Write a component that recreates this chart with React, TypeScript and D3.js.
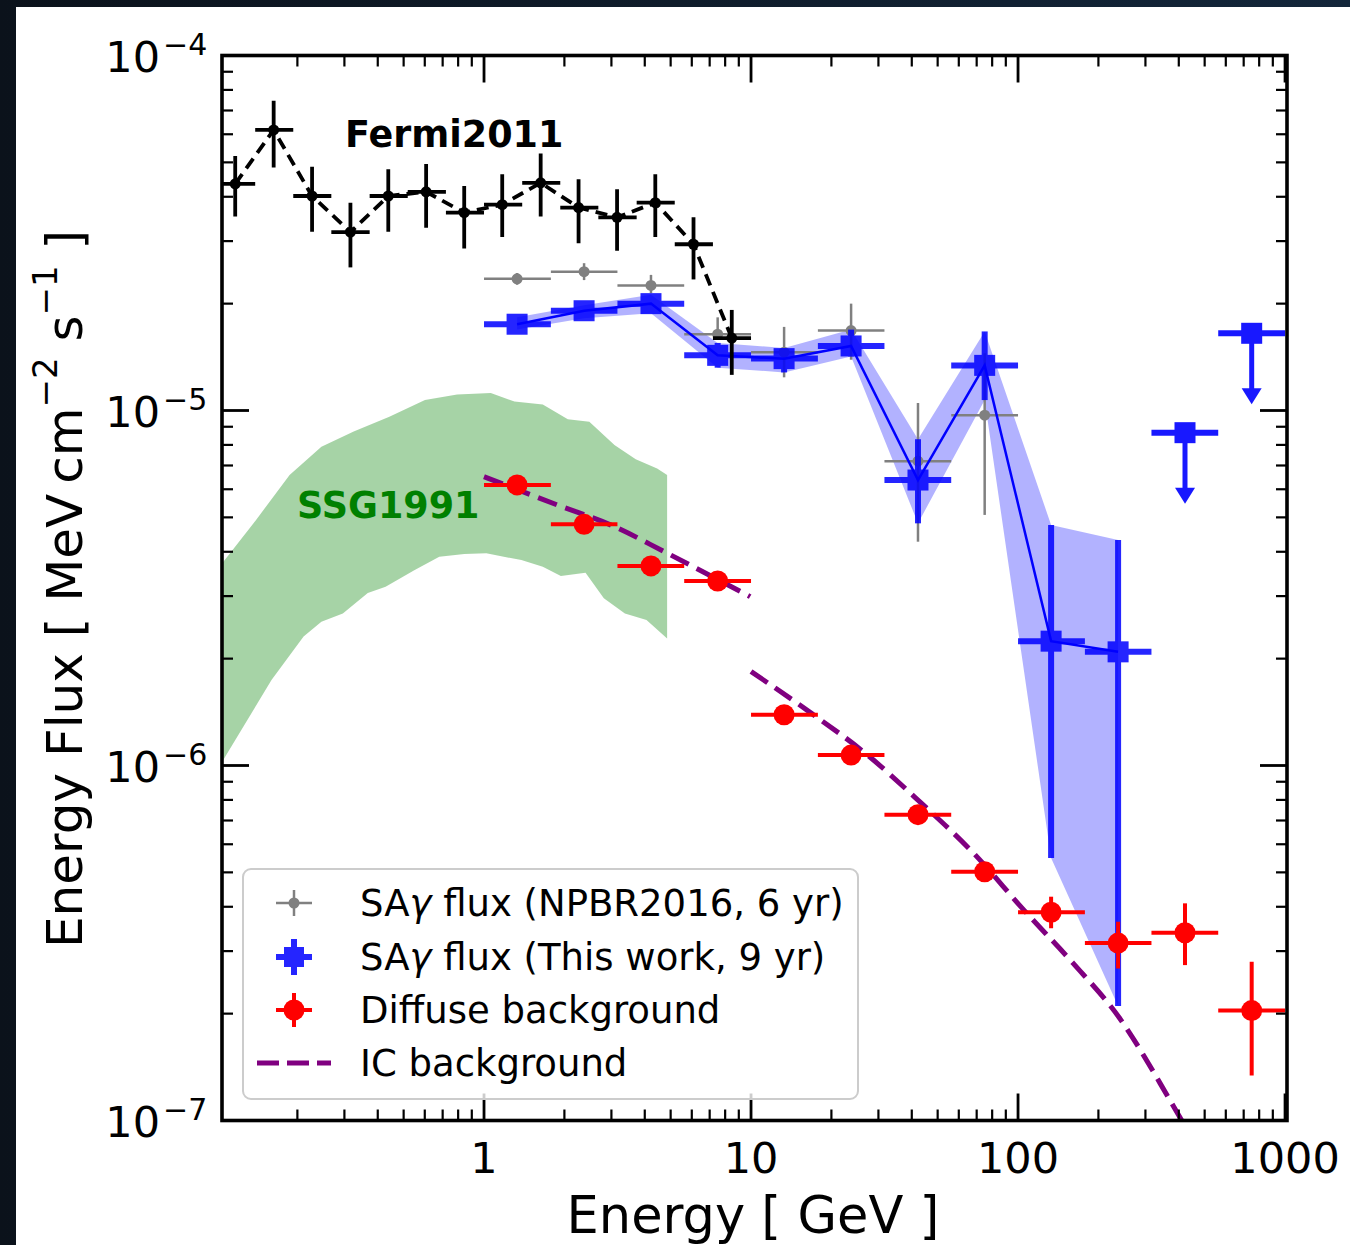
import React from 'react';
import * as d3 from 'd3';

// ---------- data ----------
// Fermi2011 (black)
const fermiE = [0.117, 0.163, 0.227, 0.316, 0.438, 0.607, 0.843, 1.17, 1.63, 2.26, 3.15, 4.38, 6.09, 8.47];
const fermiEdges = [0.1, 0.139, 0.193, 0.268, 0.373, 0.518, 0.72, 1.0, 1.39, 1.93, 2.68, 3.73, 5.18, 7.2, 10];
const fermiF = [4.35e-5, 6.17e-5, 4.02e-5, 3.18e-5, 4.02e-5, 4.13e-5, 3.61e-5, 3.8e-5, 4.38e-5, 3.73e-5, 3.5e-5, 3.85e-5, 2.94e-5, 1.6e-5];
const fermiHi = [5.21e-5, 7.46e-5, 4.86e-5, 3.85e-5, 4.78e-5, 4.95e-5, 4.29e-5, 4.63e-5, 5.3e-5, 4.48e-5, 4.2e-5, 4.63e-5, 3.5e-5, 1.92e-5];
const fermiLo = [3.52e-5, 4.84e-5, 3.19e-5, 2.53e-5, 3.19e-5, 3.27e-5, 2.86e-5, 3.08e-5, 3.52e-5, 2.96e-5, 2.82e-5, 3.08e-5, 2.34e-5, 1.26e-5];

// common energy bins for SAgamma and diffuse background
const saE = [1.33, 2.37, 4.22, 7.5, 13.3, 23.7, 42.2, 75.0, 133, 237, 422, 750];
const saEdges = [1, 1.78, 3.16, 5.62, 10, 17.8, 31.6, 56.2, 100, 178, 316, 562, 1000];

// NPBR2016, 6 yr (grey)
const npbrF = [2.35e-5, 2.46e-5, 2.25e-5, 1.64e-5, 1.46e-5, 1.68e-5, 7.2e-6, 9.7e-6];
const npbrHi = [2.44e-5, 2.6e-5, 2.41e-5, 1.83e-5, 1.72e-5, 2.0e-5, 1.05e-5, 1.45e-5];
const npbrLo = [2.26e-5, 2.33e-5, 2.14e-5, 1.58e-5, 1.24e-5, 1.39e-5, 4.27e-6, 5.08e-6];

// This work, 9 yr (blue)
const thisF = [1.75e-5, 1.91e-5, 2.0e-5, 1.43e-5, 1.4e-5, 1.52e-5, 6.37e-6, 1.34e-5, 2.24e-6, 2.09e-6];
const thisHi = [1.83e-5, 1.98e-5, 2.12e-5, 1.55e-5, 1.5e-5, 1.69e-5, 8.3e-6, 1.67e-5, 4.76e-6, 4.32e-6];
const thisLo = [1.69e-5, 1.82e-5, 1.88e-5, 1.32e-5, 1.28e-5, 1.42e-5, 4.81e-6, 1.07e-5, 5.49e-7, 2.1e-7];
// upper limits (bins 11, 12)
const ulF = [8.66e-6, 1.65e-5];

// Diffuse background (red)
const diffF = [6.17e-6, 4.78e-6, 3.65e-6, 3.31e-6, 1.39e-6, 1.07e-6, 7.27e-7, 5.02e-7, 3.86e-7, 3.16e-7, 3.38e-7, 2.04e-7];
const diffHi = [6.3e-6, 4.88e-6, 3.73e-6, 3.38e-6, 1.42e-6, 1.09e-6, 7.4e-7, 5.1e-7, 4.27e-7, 3.63e-7, 4.09e-7, 2.8e-7];
const diffLo = [6.04e-6, 4.68e-6, 3.57e-6, 3.24e-6, 1.36e-6, 1.05e-6, 7.14e-7, 4.94e-7, 3.48e-7, 2.68e-7, 2.74e-7, 1.34e-7];

// IC background (purple dashed), two segments
const icLowE = [1.0, 1.88, 3.08, 4.74, 9.92];
const icLowF = [6.51e-6, 5.42e-6, 4.71e-6, 4.0e-6, 2.99e-6];
const icHighE = [10.0, 16.9, 26.9, 42.8, 68.2, 105, 161, 238, 366, 441];
const icHighF = [1.84e-6, 1.4e-6, 1.08e-6, 7.91e-7, 5.66e-7, 3.92e-7, 2.77e-7, 1.96e-7, 1.16e-7, 9.1e-8];

// SSG1991 band (green)
const ssgUpE = [0.1, 0.137, 0.187, 0.246, 0.325, 0.442, 0.601, 0.793, 1.06, 1.3, 1.66, 2.06, 2.48, 3.08, 3.7, 4.45, 4.85];
const ssgUpF = [3.56e-6, 4.81e-6, 6.58e-6, 7.91e-6, 8.72e-6, 9.61e-6, 1.07e-5, 1.11e-5, 1.12e-5, 1.06e-5, 1.04e-5, 9.45e-6, 9.3e-6, 7.99e-6, 7.29e-6, 6.87e-6, 6.58e-6];
const ssgLoE = [0.1, 0.16, 0.211, 0.246, 0.296, 0.367, 0.428, 0.548, 0.68, 0.844, 1.02, 1.38, 1.66, 1.94, 2.4, 2.81, 3.37, 4.06, 4.85];
const ssgLoF = [9.7e-7, 1.74e-6, 2.31e-6, 2.54e-6, 2.68e-6, 3.06e-6, 3.19e-6, 3.55e-6, 3.87e-6, 3.94e-6, 3.96e-6, 3.79e-6, 3.63e-6, 3.42e-6, 3.49e-6, 2.96e-6, 2.68e-6, 2.57e-6, 2.28e-6];

const xDomain = [0.1044, 1017];
const yDomain = [1e-7, 1e-4];
const legendLabels = [
  'SAγ flux (NPBR2016, 6 yr)',
  'SAγ flux (This work, 9 yr)',
  'Diffuse background',
  'IC background',
];

const FONT = 'DejaVu Sans, Verdana, sans-serif';

function renderLabel(s: string) {
  const i = s.indexOf('γ');
  if (i < 0) return s;
  return (
    <>
      {s.slice(0, i)}
      <tspan fontStyle="italic">γ</tspan>
      {s.slice(i + 1)}
    </>
  );
}

export default function App() {
  const W = 1350, H = 1245;
  const L = 222, R = 1287, T = 55.5, B = 1120.5;
  const x = d3.scaleLog().domain(xDomain).range([L, R]);
  const y = d3.scaleLog().domain(yDomain).range([B, T]);

  const isMajor = (v: number) => Math.abs(Math.log10(v) - Math.round(Math.log10(v))) < 1e-6;
  const xTicks = x.ticks();
  const yTicks = y.ticks();

  const line = d3.line<[number, number]>().x(d => x(d[0])).y(d => y(d[1]));
  const smooth = d3.line<[number, number]>().x(d => x(d[0])).y(d => y(d[1])).curve(d3.curveMonotoneX);

  const ssgPoly = [
    ...ssgUpE.map((e, i) => [e, ssgUpF[i]] as [number, number]),
    ...ssgLoE.map((e, i) => [e, ssgLoF[i]] as [number, number]).reverse(),
  ];
  const ssgPath = line(ssgPoly) + 'Z';

  const thisE = saE.slice(0, thisF.length);
  const blueBand = d3.area<number>()
    .x((_, i) => x(thisE[i]))
    .y0((_, i) => y(thisLo[i]))
    .y1((_, i) => y(thisHi[i]))(thisF);

  const fermiPath = line(fermiE.map((e, i) => [e, fermiF[i]] as [number, number]));
  const bluePath = line(thisE.map((e, i) => [e, thisF[i]] as [number, number]));
  const icLowPath = smooth(icLowE.map((e, i) => [e, icLowF[i]] as [number, number]));
  const icHighPath = smooth(icHighE.map((e, i) => [e, icHighF[i]] as [number, number]));

  const blue = '#0000ff';
  const arrowDex = 0.2;

  const legX = 243, legY = 869, legW = 615, legH = 230;
  const rowY = [903, 957, 1010, 1063];
  const hx = 294;

  return (
    <svg width={W} height={H} viewBox={`0 0 ${W} ${H}`}
      style={{ position: 'absolute', left: 0, top: 0, display: 'block' }}
      fontFamily={FONT}>
      <defs>
        <clipPath id="plotClip">
          <rect x={L} y={T} width={R - L} height={B - T} />
        </clipPath>
        <linearGradient id="bg" x1="0" y1="0" x2="1" y2="0">
          <stop offset="0" stopColor="#0b121b" />
          <stop offset="1" stopColor="#13263a" />
        </linearGradient>
      </defs>
      <rect x={0} y={0} width={W} height={H} fill="url(#bg)" />
      <rect x={16} y={7} width={W - 16} height={H - 7} fill="#ffffff" />

      <g clipPath="url(#plotClip)">
        {/* SSG1991 band */}
        <path d={ssgPath} fill="green" fillOpacity={0.35} stroke="none" />
        {/* blue band */}
        <path d={blueBand || ''} fill={blue} fillOpacity={0.3} stroke="none" />

        {/* NPBR2016 grey */}
        {npbrF.map((f, i) => (
          <g key={'g' + i} stroke="#808080" strokeWidth={2.5}>
            <line x1={x(saEdges[i])} x2={x(saEdges[i + 1])} y1={y(f)} y2={y(f)} />
            <line x1={x(saE[i])} x2={x(saE[i])} y1={y(npbrLo[i])} y2={y(npbrHi[i])} />
            <circle cx={x(saE[i])} cy={y(f)} r={5.5} fill="#808080" stroke="none" />
          </g>
        ))}

        {/* blue connecting line */}
        <path d={bluePath || ''} fill="none" stroke={blue} strokeWidth={2.5} />
        {/* blue errorbars */}
        {thisF.map((f, i) => (
          <g key={'b' + i} opacity={0.85}>
            <line x1={x(saEdges[i])} x2={x(saEdges[i + 1])} y1={y(f)} y2={y(f)} stroke={blue} strokeWidth={6} />
            <line x1={x(saE[i])} x2={x(saE[i])} y1={y(thisLo[i])} y2={y(thisHi[i])} stroke={blue} strokeWidth={6} />
            <rect x={x(saE[i]) - 10.5} y={y(f) - 10.5} width={21} height={21} fill={blue} />
          </g>
        ))}
        {/* upper limits */}
        {ulF.map((f, j) => {
          const i = thisF.length + j;
          const cx = x(saE[i]);
          const cy = y(f);
          const tip = y(f * Math.pow(10, -arrowDex));
          return (
            <g key={'u' + j} opacity={0.9}>
              <line x1={x(saEdges[i])} x2={x(saEdges[i + 1])} y1={cy} y2={cy} stroke={blue} strokeWidth={6} />
              <line x1={cx} x2={cx} y1={cy} y2={tip - 12} stroke={blue} strokeWidth={5} />
              <path d={`M${cx - 10},${tip - 16} L${cx + 10},${tip - 16} L${cx},${tip} Z`} fill={blue} />
              <rect x={cx - 10.5} y={cy - 10.5} width={21} height={21} fill={blue} />
            </g>
          );
        })}

        {/* IC background */}
        <path d={icLowPath || ''} fill="none" stroke="#800080" strokeWidth={5} strokeDasharray="20,9" />
        <path d={icHighPath || ''} fill="none" stroke="#800080" strokeWidth={5} strokeDasharray="20,9" />

        {/* Diffuse background red */}
        {diffF.map((f, i) => (
          <g key={'r' + i} stroke="#ff0000" strokeWidth={4}>
            <line x1={x(saEdges[i])} x2={x(saEdges[i + 1])} y1={y(f)} y2={y(f)} />
            <line x1={x(saE[i])} x2={x(saE[i])} y1={y(diffLo[i])} y2={y(diffHi[i])} />
            <circle cx={x(saE[i])} cy={y(f)} r={10.5} fill="#ff0000" stroke="none" />
          </g>
        ))}

        {/* Fermi2011 black */}
        <path d={fermiPath || ''} fill="none" stroke="#000" strokeWidth={3.8} strokeDasharray="12,7" />
        {fermiF.map((f, i) => (
          <g key={'f' + i} stroke="#000" strokeWidth={3.8}>
            <line x1={x(fermiEdges[i])} x2={x(fermiEdges[i + 1])} y1={y(f)} y2={y(f)} />
            <line x1={x(fermiE[i])} x2={x(fermiE[i])} y1={y(fermiLo[i])} y2={y(fermiHi[i])} />
            <circle cx={x(fermiE[i])} cy={y(f)} r={5.5} fill="#000" stroke="none" />
          </g>
        ))}
      </g>

      {/* annotations */}
      <text x={345} y={147} fontSize={36.5} fontWeight="bold" fill="#000">Fermi2011</text>
      <text x={297} y={518} fontSize={36.5} fontWeight="bold" fill="#008000">SSG1991</text>

      {/* ticks */}
      <g stroke="#000">
        {xTicks.map((t, i) => {
          const px = x(t);
          const len = isMajor(t) ? 27 : 11;
          const sw = isMajor(t) ? 2.8 : 2.2;
          return (
            <g key={'xt' + i} strokeWidth={sw}>
              <line x1={px} x2={px} y1={B} y2={B - len} />
              <line x1={px} x2={px} y1={T} y2={T + len} />
            </g>
          );
        })}
        {yTicks.map((t, i) => {
          const py = y(t);
          const len = isMajor(t) ? 27 : 11;
          const sw = isMajor(t) ? 2.8 : 2.2;
          return (
            <g key={'yt' + i} strokeWidth={sw}>
              <line x1={L} x2={L + len} y1={py} y2={py} />
              <line x1={R} x2={R - len} y1={py} y2={py} />
            </g>
          );
        })}
      </g>
      <rect x={L} y={T} width={R - L} height={B - T} fill="none" stroke="#000" strokeWidth={3.6} />

      {/* tick labels */}
      {xTicks.filter(isMajor).map((t, i) => (
        <text key={'xl' + i} x={x(t)} y={1173} textAnchor="middle" fontSize={43} fill="#000">
          {String(Math.round(t))}
        </text>
      ))}
      {yTicks.filter(isMajor).map((t, i) => {
        const py = y(t);
        const ex = Math.round(Math.log10(t));
        return (
          <g key={'yl' + i} fill="#000">
            <text x={160} y={py + 16.5} textAnchor="end" fontSize={43}>10</text>
            <text x={163} y={py - 0.5} fontSize={30}>{'−' + Math.abs(ex)}</text>
          </g>
        );
      })}

      {/* axis labels */}
      <text x={753} y={1233} textAnchor="middle" fontSize={51} fill="#000">Energy [ GeV ]</text>
      <text transform="translate(82,589) rotate(-90)" textAnchor="middle" fontSize={50} fill="#000"
        style={{ whiteSpace: 'pre' }}>
        {'Energy Flux [ MeV\u2009cm'}
        <tspan fontSize={34} dy={-25}>{'−2'}</tspan>
        <tspan dy={25}>{' s'}</tspan>
        <tspan fontSize={34} dy={-25}>{'−1'}</tspan>
        <tspan dy={25}>{' ]'}</tspan>
      </text>

      {/* legend */}
      <rect x={legX} y={legY} width={legW} height={legH} rx={8} ry={8}
        fill="#ffffff" fillOpacity={0.8} stroke="#cccccc" strokeWidth={2} />
      {/* grey handle */}
      <g stroke="#808080" strokeWidth={2.5}>
        <line x1={hx - 18} x2={hx + 18} y1={rowY[0]} y2={rowY[0]} />
        <line x1={hx} x2={hx} y1={rowY[0] - 13} y2={rowY[0] + 13} />
        <circle cx={hx} cy={rowY[0]} r={5.5} fill="#808080" stroke="none" />
      </g>
      {/* blue handle */}
      <g opacity={0.85}>
        <line x1={hx - 18} x2={hx + 18} y1={rowY[1]} y2={rowY[1]} stroke={blue} strokeWidth={6} />
        <line x1={hx} x2={hx} y1={rowY[1] - 18} y2={rowY[1] + 18} stroke={blue} strokeWidth={6} />
        <rect x={hx - 10} y={rowY[1] - 10} width={20} height={20} fill={blue} />
      </g>
      {/* red handle */}
      <g stroke="#ff0000" strokeWidth={4}>
        <line x1={hx - 18} x2={hx + 18} y1={rowY[2]} y2={rowY[2]} />
        <line x1={hx} x2={hx} y1={rowY[2] - 17} y2={rowY[2] + 17} />
        <circle cx={hx} cy={rowY[2]} r={10.5} fill="#ff0000" stroke="none" />
      </g>
      {/* purple handle */}
      <line x1={257} x2={331} y1={rowY[3]} y2={rowY[3]} stroke="#800080" strokeWidth={5} strokeDasharray="22,8" />
      {legendLabels.map((s, i) => (
        <text key={'lg' + i} x={360} y={rowY[i] + 13} fontSize={37} fill="#000" style={{ whiteSpace: 'pre' }}>
          {renderLabel(s)}
        </text>
      ))}
    </svg>
  );
}
